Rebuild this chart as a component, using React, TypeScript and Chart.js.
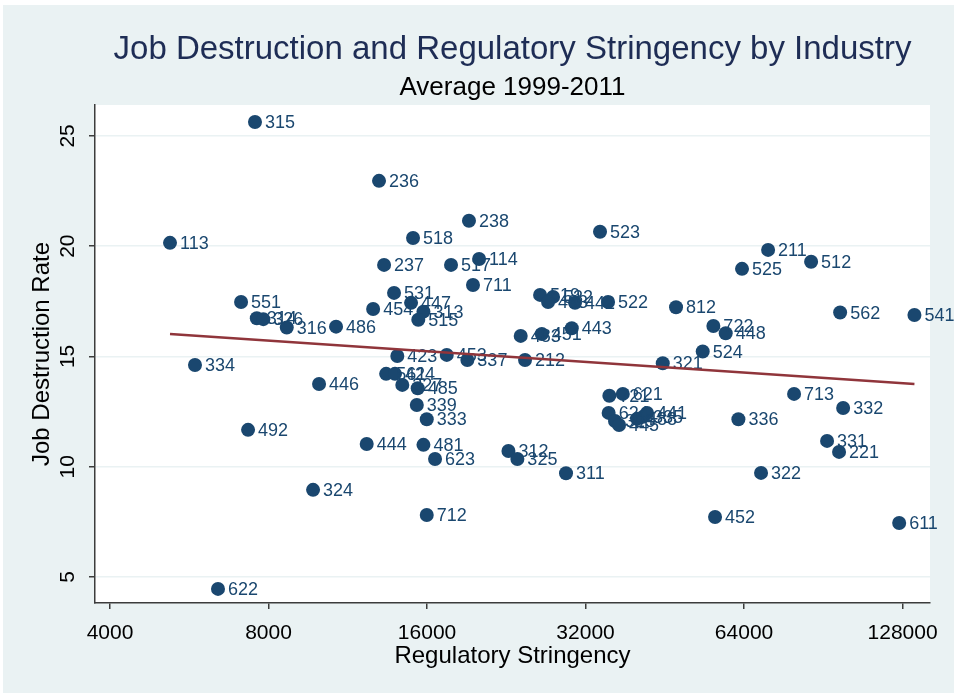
import React, { useEffect, useRef } from 'react';
import { Chart, registerables } from 'chart.js';

Chart.register(...registerables);

// ---- data ----
const codes = [
  '315', '236', '113', '238', '518', '523', '211', '512', '525', '114',
  '237', '517', '711', '551', '531', '454', '447', '313', '515', '314',
  '326', '316', '486', '423', '453', '337', '212', '321', '524', '443',
  '483', '451', '519', '532', '493', '442', '522', '812', '722', '448',
  '562', '541', '334', '446', '561', '424', '327', '485', '339', '333',
  '444', '481', '623', '312', '325', '311', '324', '712', '492', '622',
  '452', '611', '322', '331', '221', '332', '713', '336', '621', '721',
  '624', '323', '445', '488', '335', '441',
];
const stringency = [
  7540, 12970, 5200, 19220, 15050, 34090, 71090, 85800, 63430, 20090,
  13260, 17770, 19560, 7095, 13850, 12640, 14920, 15750, 15400, 7600,
  7820, 8664, 10748, 14050, 17440, 19085, 24560, 44850, 53410, 30130,
  24100, 26430, 26230, 27760, 27160, 30560, 35310, 47530, 55960, 59060,
  97410, 134800, 5800, 9978, 13380, 13910, 14360, 15360, 15300, 15980,
  12290, 15750, 16570, 22840, 23750, 29380, 9720, 15980, 7316, 6414,
  56370, 126100, 68930, 92000, 96950, 98700, 79640, 62430, 37660, 35510,
  35400, 36400, 37050, 40090, 41150, 41870,
];
const destruction = [
  25.63, 22.96, 20.15, 21.15, 20.37, 20.65, 19.83, 19.29, 18.97, 19.42,
  19.15, 19.15, 18.24, 17.47, 17.88, 17.15, 17.43, 17.03, 16.66, 16.73,
  16.69, 16.31, 16.35, 15.02, 15.07, 14.84, 14.84, 14.69, 15.22, 16.28,
  15.93, 16.02, 17.79, 17.7, 17.47, 17.43, 17.47, 17.23, 16.38, 16.05,
  16.99, 16.88, 14.61, 13.75, 14.21, 14.21, 13.71, 13.56, 12.8, 12.15,
  11.03, 10.99, 10.35, 10.71, 10.35, 9.7, 8.95, 7.81, 11.67, 4.46,
  7.72, 7.45, 9.72, 11.17, 10.67, 12.66, 13.3, 12.15, 13.3, 13.22,
  12.44, 12.07, 11.89, 12.17, 12.26, 12.44,
];
const fitX = [5200, 134800];
const fitY = [16.02, 13.75];
const xTicks = [4000, 8000, 16000, 32000, 64000, 128000];
const yTicks = [5, 10, 15, 20, 25];
const titleText = 'Job Destruction and Regulatory Stringency by Industry';
const subtitleText = 'Average 1999-2011';
const xTitleText = 'Regulatory Stringency';
const yTitleText = 'Job Destruction Rate';

// ---- style ----
const FONT = '"Liberation Sans", Arial, Helvetica, sans-serif';
const NAVY = 'rgb(26,71,111)';
const MAROON = 'rgb(144,53,59)';
const BG = 'rgb(234,242,243)';
const AXIS = 'rgb(60,60,60)';
const TITLE = 'rgb(30,45,85)';
const W = 954;
const H = 693;

const stataPlugin = {
  id: 'stataLook',
  beforeDraw(chart: any) {
    const { ctx, width, height, chartArea: a } = chart;
    ctx.save();
    ctx.fillStyle = '#ffffff';
    ctx.fillRect(0, 0, width, height);
    ctx.fillStyle = BG;
    ctx.fillRect(3, 5, width - 3, height - 5);
    ctx.fillStyle = '#ffffff';
    ctx.fillRect(a.left, a.top, a.right - a.left, a.bottom - a.top);
    ctx.restore();
  },
  afterDatasetDraw(chart: any, args: any) {
    if (args.index !== 1) return;
    const { ctx } = chart;
    ctx.save();
    ctx.font = `18px ${FONT}`;
    ctx.fillStyle = NAVY;
    ctx.textAlign = 'left';
    ctx.textBaseline = 'middle';
    args.meta.data.forEach((pt: any, i: number) => {
      ctx.fillText(codes[i], pt.x + 10, pt.y + 1);
    });
    ctx.restore();
  },
  afterDraw(chart: any) {
    const { ctx, chartArea: a, scales } = chart;
    const cx = (a.left + a.right) / 2;
    const cy = (a.top + a.bottom) / 2;
    ctx.save();
    ctx.textAlign = 'center';
    ctx.textBaseline = 'middle';
    // titles
    ctx.fillStyle = TITLE;
    ctx.font = `33px ${FONT}`;
    ctx.fillText(titleText, cx, 50);
    ctx.fillStyle = '#000';
    ctx.font = `26px ${FONT}`;
    ctx.fillText(subtitleText, cx, 88);
    // x tick labels
    ctx.font = `21px ${FONT}`;
    xTicks.forEach((v) => {
      ctx.fillText(String(v), scales.x.getPixelForValue(v), a.bottom + 30);
    });
    // y tick labels (rotated)
    yTicks.forEach((v) => {
      ctx.save();
      ctx.translate(68, scales.y.getPixelForValue(v));
      ctx.rotate(-Math.PI / 2);
      ctx.fillText(String(v), 0, 0);
      ctx.restore();
    });
    // axis titles
    ctx.font = `24px ${FONT}`;
    ctx.fillText(xTitleText, cx, a.bottom + 53);
    ctx.save();
    ctx.translate(42, cy);
    ctx.rotate(-Math.PI / 2);
    ctx.fillText(yTitleText, 0, 0);
    ctx.restore();
    ctx.restore();
  },
};

export default function App() {
  const ref = useRef<HTMLCanvasElement | null>(null);
  useEffect(() => {
    if (!ref.current) return;
    const chart = new Chart(ref.current, {
      type: 'scatter',
      data: {
        datasets: [
          {
            label: 'Fitted values',
            data: fitX.map((x, i) => ({ x, y: fitY[i] })),
            showLine: true,
            borderColor: MAROON,
            borderWidth: 2.5,
            pointRadius: 0,
            fill: false,
          } as any,
          {
            label: 'Job Destruction Rate',
            data: stringency.map((x, i) => ({ x, y: destruction[i] })),
            backgroundColor: NAVY,
            borderColor: NAVY,
            borderWidth: 0,
            pointRadius: 7,
            pointHoverRadius: 7,
          },
        ],
      },
      options: {
        responsive: false,
        animation: false,
        devicePixelRatio: 1,
        layout: { padding: { left: 89, top: 105, right: 24, bottom: 84 } },
        plugins: {
          legend: { display: false },
          title: { display: false },
          tooltip: { enabled: false },
        },
        scales: {
          x: {
            type: 'logarithmic',
            min: 3746,
            max: 144300,
            afterBuildTicks: (s: any) => {
              s.ticks = xTicks.map((v) => ({ value: v }));
            },
            ticks: { display: false },
            grid: {
              drawOnChartArea: false,
              drawTicks: true,
              tickLength: 6,
              color: AXIS,
              lineWidth: 1.5,
            },
            border: { display: true, color: AXIS, width: 1.5 },
          },
          y: {
            type: 'linear',
            min: 3.82,
            max: 26.4,
            afterBuildTicks: (s: any) => {
              s.ticks = yTicks.map((v) => ({ value: v }));
            },
            ticks: { display: false },
            grid: {
              color: BG,
              lineWidth: 1.5,
              drawTicks: true,
              tickLength: 6,
              tickColor: AXIS,
              tickWidth: 1.5,
            },
            border: { display: true, color: AXIS, width: 1.5 },
          },
        },
      },
      plugins: [stataPlugin],
    } as any);
    return () => chart.destroy();
  }, []);
  return (
    <div style={{ position: 'fixed', left: 0, top: 0, width: W, height: H }}>
      <canvas ref={ref} width={W} height={H} style={{ display: 'block' }} />
    </div>
  );
}
